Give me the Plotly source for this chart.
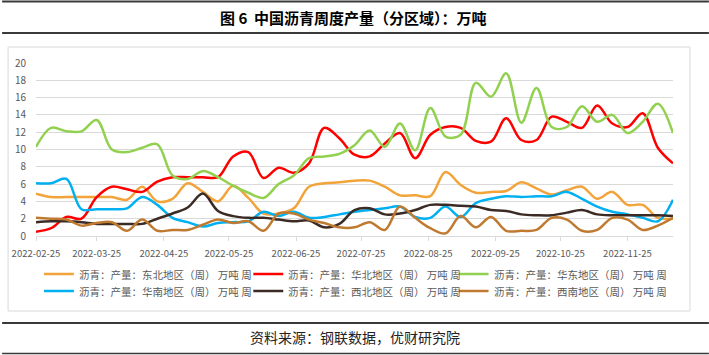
import plotly.graph_objects as go

dates = ["2022-02-25", "2022-03-04", "2022-03-11", "2022-03-18", "2022-03-25",
         "2022-04-01", "2022-04-08", "2022-04-15", "2022-04-22", "2022-04-29",
         "2022-05-06", "2022-05-13", "2022-05-20", "2022-05-27", "2022-06-03",
         "2022-06-10", "2022-06-17", "2022-06-24", "2022-07-01", "2022-07-08",
         "2022-07-15", "2022-07-22", "2022-07-29", "2022-08-05", "2022-08-12",
         "2022-08-19", "2022-08-26", "2022-09-02", "2022-09-09", "2022-09-16",
         "2022-09-23", "2022-09-30", "2022-10-07", "2022-10-14", "2022-10-21",
         "2022-10-28", "2022-11-04", "2022-11-11", "2022-11-18", "2022-11-25",
         "2022-12-02", "2022-12-09", "2022-12-16"]

northeast = [4.9, 4.5, 4.5, 4.5, 4.5, 4.5, 4.2, 5.7, 4.0, 4.3, 6.1, 5.1, 4.0, 5.8, 4.4,
             2.6, 2.6, 3.2, 5.7, 6.1, 6.2, 6.4, 6.4, 5.7, 4.7, 4.7, 4.6, 7.4, 5.9, 5.0,
             5.1, 5.2, 6.2, 5.5, 4.8, 5.3, 5.7, 4.3, 5.1, 3.6, 3.6, 2.1, 2.0]
north = [0.5, 0.9, 2.2, 2.0, 4.5, 5.7, 5.4, 5.1, 6.3, 6.8, 6.8, 6.8, 6.8, 9.2, 9.7,
         6.7, 7.9, 7.3, 8.4, 12.5, 11.3, 9.4, 9.2, 10.7, 11.9, 9.0, 11.7, 12.6, 12.5, 11.0,
         10.9, 13.6, 11.1, 11.1, 13.8, 13.2, 12.5, 15.1, 13.0, 12.6, 14.2, 10.2, 8.4]
east = [10.3, 12.5, 12.1, 12.1, 13.4, 10.0, 9.7, 10.2, 10.6, 7.0, 6.6, 7.5, 6.8, 5.8, 5.0,
        4.4, 6.0, 7.0, 9.0, 9.2, 9.5, 10.5, 12.2, 10.3, 13.0, 9.9, 14.8, 11.5, 11.7, 17.7,
        16.1, 18.8, 13.1, 17.1, 12.6, 12.6, 15.0, 13.2, 14.0, 11.9, 13.2, 15.3, 11.9]
south = [6.1, 6.1, 6.6, 3.1, 3.1, 3.1, 3.2, 4.5, 3.6, 2.1, 1.6, 1.1, 1.5, 1.6, 1.7,
         2.8, 2.3, 2.8, 2.1, 2.2, 2.5, 2.8, 3.0, 3.2, 3.4, 2.2, 2.1, 3.4, 2.2, 3.8,
         4.3, 4.6, 4.5, 4.6, 4.6, 5.1, 4.3, 3.4, 2.8, 2.5, 2.1, 1.7, 4.2]
northwest = [1.6, 1.7, 1.7, 1.6, 1.4, 1.4, 1.4, 1.4, 2.0, 2.6, 3.3, 4.9, 2.9, 2.3, 2.1,
             2.1, 1.9, 1.7, 1.8, 1.0, 1.4, 3.0, 3.2, 2.5, 2.6, 3.0, 3.6, 3.6, 3.5, 3.4,
             3.0, 2.9, 2.5, 2.4, 2.4, 2.7, 3.0, 2.5, 2.4, 2.4, 2.4, 2.4, 2.3]
southwest = [2.1, 2.0, 1.9, 1.2, 1.5, 1.6, 0.6, 1.9, 0.6, 0.7, 0.7, 1.3, 1.9, 1.5, 1.7,
             0.6, 2.6, 2.6, 1.9, 1.5, 1.0, 1.0, 1.6, 0.7, 3.4, 2.1, 0.9, 0.3, 2.3, 1.0,
             2.2, 0.6, 0.6, 0.7, 2.1, 1.9, 0.6, 0.7, 2.1, 1.9, 0.7, 1.2, 2.1]

series_names = ["沥青：产量：东北地区（周） 万吨 周", "沥青：产量：华北地区（周） 万吨 周",
                "沥青：产量：华东地区（周） 万吨 周", "沥青：产量：华南地区（周） 万吨 周",
                "沥青：产量：西北地区（周） 万吨 周", "沥青：产量：西南地区（周） 万吨 周"]
series_values = [northeast, north, east, south, northwest, southwest]
colors = ["#F2A33A", "#FF0000", "#92D050", "#00B0F0", "#3B2B24", "#C07A30"]

tick_vals = ["2022-02-25", "2022-03-25", "2022-04-25", "2022-05-25", "2022-06-25",
             "2022-07-25", "2022-08-25", "2022-09-25", "2022-10-25", "2022-11-25"]
y_ticks = [0, 2, 4, 6, 8, 10, 12, 14, 16, 18, 20]

title_text = "图 6  中国沥青周度产量（分区域）：万吨"
source_text = "资料来源：钢联数据，优财研究院"

W, H = 709, 355
L, R, T, B = 34, 36, 63, 119
PW, PH = W - L - R, H - T - B

def px(x):
    return (x - L) / PW

def py(y):
    return (H - B - y) / PH

FONT = "Noto Sans CJK SC"

fig = go.Figure()
for name, vals, col in zip(series_names, series_values, colors):
    fig.add_trace(go.Scatter(x=dates, y=vals, name=name, mode="lines", showlegend=False,
                             line=dict(color=col, width=2.5, shape="spline", smoothing=1.0)))

fig.update_layout(
    width=W, height=H,
    margin=dict(l=L, r=R, t=T, b=B, pad=0),
    paper_bgcolor="white", plot_bgcolor="white",
    font=dict(family=FONT, size=10, color="#595959"),
    showlegend=False,
    xaxis=dict(type="date", range=[dates[0], dates[-1]], tickvals=tick_vals, ticktext=tick_vals,
               showgrid=False, showline=True, linecolor="#d9d9d9", linewidth=1,
               ticks="outside", ticklen=4, tickcolor="#d9d9d9", ticklabelstandoff=5,
               tickfont=dict(size=9.5, color="#595959"), zeroline=False),
    yaxis=dict(range=[0, 20], tickvals=y_ticks, showgrid=True, gridcolor="#d9d9d9", gridwidth=1,
               zeroline=False, showline=False, ticks="outside", ticklen=7,
               tickcolor="rgba(0,0,0,0)",
               tickfont=dict(size=10, color="#595959")),
)

shapes = [
    dict(type="line", xref="paper", yref="paper", x0=px(0), x1=px(W), y0=py(1.5), y1=py(1.5),
         line=dict(color="#3a3a3a", width=2)),
    dict(type="line", xref="paper", yref="paper", x0=px(0), x1=px(W), y0=py(33), y1=py(33),
         line=dict(color="#3a3a3a", width=2)),
    dict(type="rect", xref="paper", yref="paper", x0=px(6), x1=px(690), y0=py(47), y1=py(311),
         line=dict(color="#d9d9d9", width=1)),
    dict(type="line", xref="paper", yref="paper", x0=px(0), x1=px(W), y0=py(323), y1=py(323),
         line=dict(color="#3a3a3a", width=2)),
    dict(type="line", xref="paper", yref="paper", x0=px(0), x1=px(W), y0=py(353.5), y1=py(353.5),
         line=dict(color="#3a3a3a", width=1.5)),
]

# legend (3 columns x 2 rows)
col_x = [42, 252, 458]
row_y = [274, 291]
for i, (name, col) in enumerate(zip(series_names, colors)):
    lx = col_x[i % 3]
    ly = row_y[i // 3]
    shapes.append(dict(type="line", xref="paper", yref="paper", x0=px(lx), x1=px(lx + 30),
                       y0=py(ly), y1=py(ly), line=dict(color=col, width=2.5)))
    fig.add_annotation(text=name, xref="paper", yref="paper", x=px(lx + 33), y=py(ly),
                       xanchor="left", yanchor="middle", showarrow=False,
                       font=dict(family=FONT, size=10.5, color="#595959"))

fig.update_layout(shapes=shapes)

fig.add_annotation(text="<b>" + title_text + "</b>", xref="paper", yref="paper",
                   x=px(352), y=py(17), xanchor="center", yanchor="middle", showarrow=False,
                   font=dict(family=FONT, size=15, color="#000000"))
fig.add_annotation(text=source_text, xref="paper", yref="paper",
                   x=px(354), y=py(337), xanchor="center", yanchor="middle", showarrow=False,
                   font=dict(family=FONT, size=14, color="#222222"))

fig.write_html("out.html", config={"displayModeBar": False},
               post_script="document.body.style.margin='0';document.body.style.overflow='hidden';")
